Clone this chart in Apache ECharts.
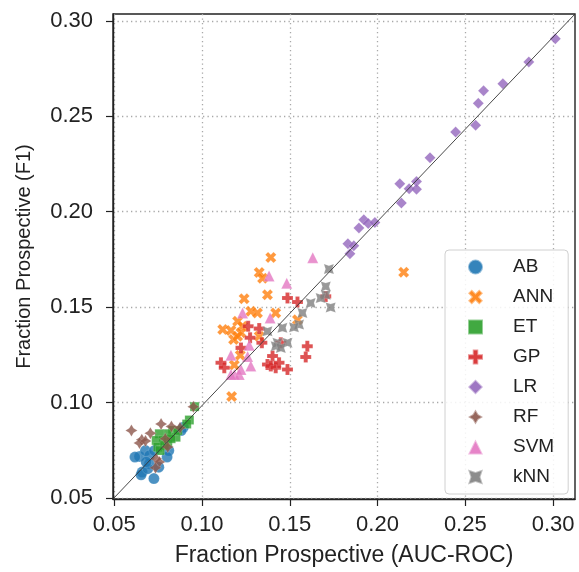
<!DOCTYPE html>
<html>
<head>
<meta charset="utf-8">
<script src="https://cdn.jsdelivr.net/npm/echarts@6/dist/echarts.min.js"></script>
<style>
  html, body { margin: 0; padding: 0; background: #fff; }
  #main { width: 579px; height: 572px; }
</style>
</head>
<body>
<div id="main"></div>
<script>
// axis limits and ticks
const xMin = 0.0493, xMax = 0.3125;
const yMin = 0.0494, yMax = 0.3036;
const tickValues = [0.05, 0.10, 0.15, 0.20, 0.25, 0.30];

// points per model: [AUC-ROC fraction, F1 fraction]
const AB = [
  [0.0894, 0.0870], [0.0881, 0.0853], [0.0644, 0.0717], [0.0678, 0.0748], [0.0701, 0.0722],
  [0.0618, 0.0714], [0.0729, 0.0748], [0.0811, 0.0748], [0.0801, 0.0714], [0.0754, 0.0661],
  [0.0701, 0.0679], [0.0659, 0.0635], [0.0653, 0.0621], [0.0726, 0.0601], [0.0691, 0.0653],
  [0.0682, 0.0688]
];
const ANN = [
  [0.1392, 0.1760], [0.1326, 0.1681], [0.1345, 0.1651], [0.1240, 0.1543], [0.1373, 0.1564],
  [0.1278, 0.1478], [0.1316, 0.1469], [0.1203, 0.1426], [0.1231, 0.1399], [0.1118, 0.1382],
  [0.1165, 0.1377], [0.1222, 0.1365], [0.1180, 0.1330], [0.1203, 0.1347], [0.1326, 0.1347],
  [0.1218, 0.1248], [0.1184, 0.1196], [0.1169, 0.1031], [0.1420, 0.1469], [0.1544, 0.1434],
  [0.2149, 0.1682]
];
const ET = [
  [0.0958, 0.0978], [0.0928, 0.0908], [0.0913, 0.0887], [0.0833, 0.0853], [0.0805, 0.0836],
  [0.0757, 0.0836], [0.0739, 0.0801], [0.0777, 0.0801], [0.0852, 0.0818], [0.0805, 0.0792],
  [0.0748, 0.0766], [0.0786, 0.0775], [0.0824, 0.0810], [0.0862, 0.0853], [0.0761, 0.0748]
];
const GP = [
  [0.1263, 0.1399], [0.1326, 0.1387], [0.1274, 0.1339], [0.1222, 0.1286], [0.1108, 0.1208],
  [0.1127, 0.1182], [0.1341, 0.1313], [0.1373, 0.1199], [0.1487, 0.1547], [0.1544, 0.1526],
  [0.1600, 0.1295], [0.1591, 0.1238], [0.1402, 0.1243], [0.1392, 0.1191], [0.1420, 0.1182],
  [0.1439, 0.1208], [0.1487, 0.1173], [0.1449, 0.1313], [0.1705, 0.1556]
];
const LR = [
  [0.3013, 0.2906], [0.2862, 0.2785], [0.2714, 0.2670], [0.2604, 0.2634], [0.2574, 0.2568],
  [0.2559, 0.2453], [0.2445, 0.2417], [0.2299, 0.2283], [0.2127, 0.2146], [0.2136, 0.2045],
  [0.2180, 0.2120], [0.2222, 0.2158], [0.2222, 0.2118], [0.1922, 0.1958], [0.1894, 0.1915],
  [0.1947, 0.1938], [0.1985, 0.1943], [0.1831, 0.1832], [0.1865, 0.1821], [0.1843, 0.1780]
];
const RF = [
  [0.0951, 0.0978], [0.0598, 0.0853], [0.0657, 0.0805], [0.0644, 0.0787], [0.0706, 0.0839],
  [0.0678, 0.0798], [0.0767, 0.0887], [0.0826, 0.0874], [0.0875, 0.0867], [0.0805, 0.0766],
  [0.0739, 0.0705], [0.0757, 0.0688], [0.0735, 0.0658], [0.0791, 0.0810]
];
const SVM = [
  [0.1483, 0.1625], [0.1631, 0.1759], [0.1382, 0.1663], [0.1231, 0.1469], [0.1388, 0.1443],
  [0.1269, 0.1300], [0.1260, 0.1241], [0.1278, 0.1191], [0.1165, 0.1248], [0.1184, 0.1147],
  [0.1212, 0.1147], [0.1222, 0.1173], [0.1165, 0.1147]
];
const kNN = [
  [0.1723, 0.1699], [0.1705, 0.1608], [0.1705, 0.1564], [0.1676, 0.1547], [0.1733, 0.1498],
  [0.1619, 0.1521], [0.1572, 0.1469], [0.1553, 0.1408], [0.1524, 0.1394], [0.1458, 0.1391],
  [0.1373, 0.1373], [0.1487, 0.1313], [0.1430, 0.1313], [0.1420, 0.1295], [0.1449, 0.1286]
];

// marker shapes (seaborn-like)
const symX = 'path://M2,-4L4,-2L2,0L4,2L2,4L0,2L-2,4L-4,2L-2,0L-4,-2L-2,-4L0,-2Z';
const symPlus = 'path://M-1.1,-3L1.1,-3L1.1,-1.1L3,-1.1L3,1.1L1.1,1.1L1.1,3L-1.1,3L-1.1,1.1L-3,1.1L-3,-1.1L-1.1,-1.1Z';
const symStar = 'path://M0,-4L1.5,-1.5L4,0L1.5,1.5L0,4L-1.5,1.5L-4,0L-1.5,-1.5Z';
const symStarX = 'path://M-2.83,-2.83L0,-1.9L2.83,-2.83L1.9,0L2.83,2.83L0,1.9L-2.83,2.83L-1.9,0Z';

const groups = [
  { name: 'AB',  data: AB,  color: '#1f77b4', symbol: 'circle',   size: 11 },
  { name: 'ANN', data: ANN, color: '#ff7f0e', symbol: symX,       size: 11 },
  { name: 'ET',  data: ET,  color: '#2ca02c', symbol: 'rect',     size: 9 },
  { name: 'GP',  data: GP,  color: '#d62728', symbol: symPlus,    size: 11 },
  { name: 'LR',  data: LR,  color: '#9467bd', symbol: 'diamond',  size: 11 },
  { name: 'RF',  data: RF,  color: '#8c564b', symbol: symStar,    size: 12 },
  { name: 'SVM', data: SVM, color: '#e377c2', symbol: 'triangle', size: 11 },
  { name: 'kNN', data: kNN, color: '#7f7f7f', symbol: symStarX,   size: 10 }
];

const FONT = 'Liberation Sans, Arial, sans-serif';
const chart = echarts.init(document.getElementById('main'));

const series = groups.map(g => ({
  name: g.name,
  type: 'scatter',
  data: g.data,
  symbol: g.symbol,
  symbolSize: g.size,
  itemStyle: { color: g.color, opacity: 0.8, borderColor: 'rgba(255,255,255,0.5)', borderWidth: 0.4 },
  emphasis: { disabled: true },
  animation: false
}));

// diagonal of the axes box
series.push({
  name: 'diag',
  type: 'line',
  data: [[xMin, yMin], [xMax, yMax]],
  symbol: 'none',
  lineStyle: { color: '#333', width: 0.9 },
  z: 5,
  silent: true,
  animation: false
});

const gridLine = { show: true, lineStyle: { type: [1.3, 3.2], color: '#a8a8a8', width: 1.3 } };

const option = {
  backgroundColor: '#fff',
  textStyle: { fontFamily: FONT },
  grid: {
    left: 113, right: 4, top: 14, bottom: 71,
    show: true, borderColor: '#222', borderWidth: 1.4
  },
  xAxis: {
    type: 'value',
    min: xMin, max: xMax,
    name: 'Fraction Prospective (AUC-ROC)',
    nameLocation: 'middle',
    nameGap: 45,
    nameTextStyle: { fontSize: 23, color: '#222', fontFamily: FONT },
    axisLine: { show: true, lineStyle: { color: '#222', width: 1.4 } },
    axisTick: { show: true, length: 7, lineStyle: { color: '#222', width: 1.2 }, customValues: tickValues },
    axisLabel: { fontSize: 22, color: '#222', margin: 15, fontFamily: FONT, customValues: tickValues,
      formatter: v => v.toFixed(2) },
    splitLine: gridLine
  },
  yAxis: {
    type: 'value',
    min: yMin, max: yMax,
    name: 'Fraction Prospective (F1)',
    nameLocation: 'middle',
    nameGap: 79,
    nameTextStyle: { fontSize: 20, color: '#222', fontFamily: FONT },
    axisLine: { show: true, lineStyle: { color: '#222', width: 1.4 } },
    axisTick: { show: true, length: 7, lineStyle: { color: '#222', width: 1.2 }, customValues: tickValues },
    axisLabel: { fontSize: 22, color: '#222', margin: 20, fontFamily: FONT, customValues: tickValues,
      formatter: v => v.toFixed(2) },
    splitLine: gridLine
  },
  legend: {
    orient: 'vertical',
    left: 445,
    top: 250,
    padding: [6, 14, 6, 22],
    itemWidth: 15,
    itemHeight: 15,
    itemGap: 8,
    backgroundColor: 'rgba(255,255,255,0.85)',
    borderColor: '#d0d0d0',
    borderWidth: 1,
    borderRadius: 4,
    textStyle: { fontSize: 19, color: '#222', fontFamily: FONT, lineHeight: 22, padding: [0, 0, 0, 25] },
    data: groups.map(g => ({ name: g.name, icon: g.symbol, itemStyle: { color: g.color, opacity: 0.9 } }))
  },
  series: series
};

chart.setOption(option);
</script>
</body>
</html>
